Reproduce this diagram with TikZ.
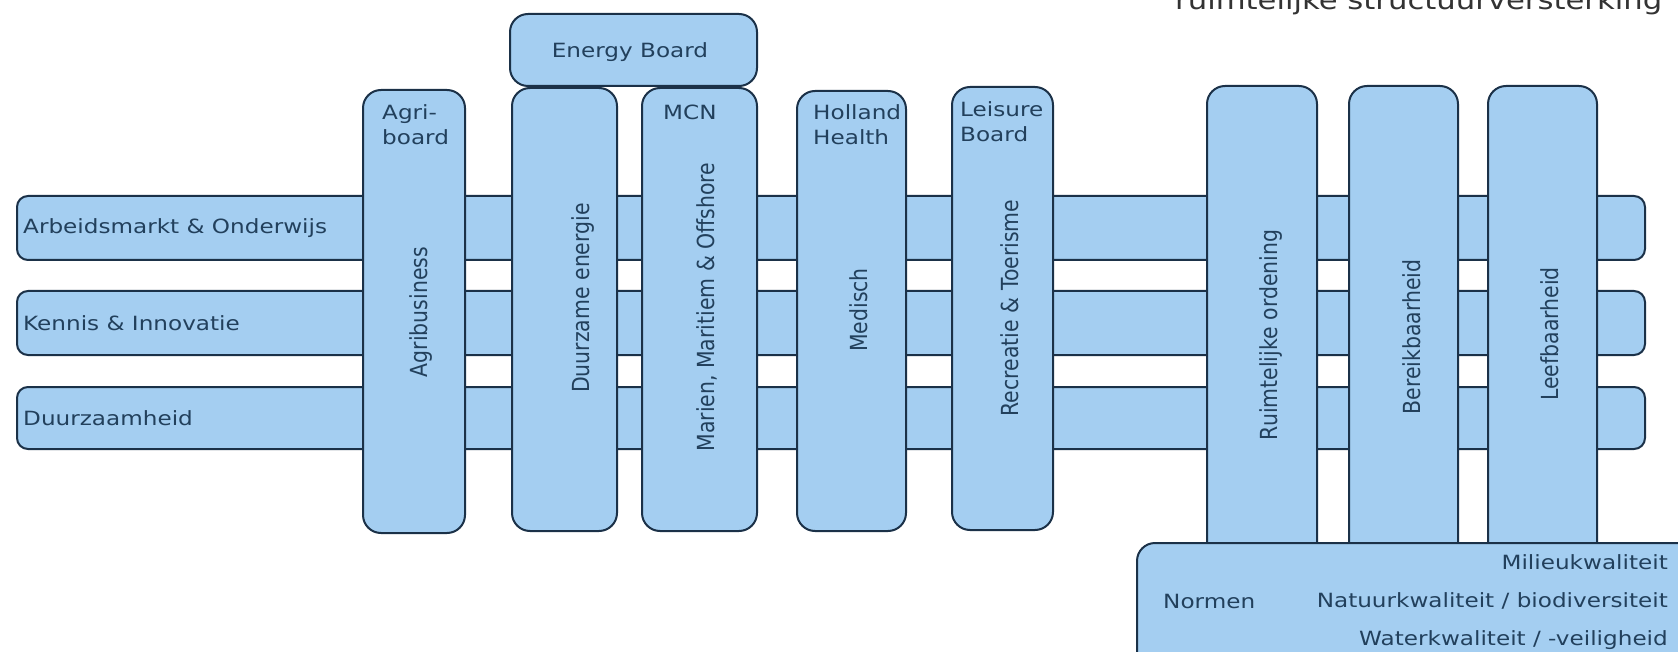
\documentclass[tikz,border=0pt]{standalone}
\usepackage{fontspec}
\setmainfont[FakeStretch=1.18]{DejaVu Sans}
\newfontfamily\rotfont[FakeStretch=0.87]{DejaVu Sans}
\usetikzlibrary{fit}
\definecolor{vulling}{HTML}{A4CEF1}
\definecolor{lijn}{HTML}{1B3148}
\definecolor{letter}{HTML}{22405C}

\begin{document}
\begin{tikzpicture}[x=1pt,y=-1pt,
  blok/.style={draw=lijn,fill=vulling,line width=2pt,rounded corners=18pt,inner sep=0pt},
  balk/.style={blok,rounded corners=11pt},
  tekst/.style={text=letter,inner sep=0pt,font=\fontsize{19.6}{25}\selectfont},
  staand/.style={text=letter,inner sep=0pt,rotate=90,font=\rotfont\fontsize{23.5}{26}\selectfont}]
\useasboundingbox (0,0) rectangle (1678,652);
\clip (0,0) rectangle (1678,652);
% horizontale balken
\node[balk,fit={(17,196) (1645,260)}] (arbeid) {};
\node[balk,fit={(17,291) (1645,355)}] (kennis) {};
\node[balk,fit={(17,387) (1645,449)}] (duurzaam) {};
% staande blokken
\node[blok,fit={(363,90) (465,533)}] (agri) {};
\node[blok,fit={(512,88) (617,531)}] (energie) {};
\node[blok,fit={(642,88) (757,531)}] (mcn) {};
\node[blok,fit={(797,91) (906,531)}] (holland) {};
\node[blok,fit={(952,87) (1053,530)}] (leisure) {};
\node[blok,fit={(1207,86) (1317,560)}] (ruimte) {};
\node[blok,fit={(1349,86) (1458,560)}] (bereik) {};
\node[blok,fit={(1488,86) (1597,560)}] (leef) {};
\node[blok,fit={(510,14) (757,86)}] (eboard) {};
\node[blok,fit={(1137,543) (1720,700)}] (normen) {};
% teksten
\node[tekst,anchor=west] (tarbeid) at (23,228) {Arbeidsmarkt \& Onderwijs};
\node[tekst,anchor=west] (tkennis) at (23,323) {Kennis \& Innovatie};
\node[tekst,anchor=west] (tduurzaam) at (23,418) {Duurzaamheid};
\node[tekst,anchor=north west,align=left] (tagri) at (382,104) {Agri-\\board};
\node[tekst] (teboard) at (630,52) {Energy Board};
\node[tekst,anchor=north west] (tmcn) at (663,105) {MCN};
\node[tekst,anchor=north west,align=left] (tholland) at (813,104) {Holland\\Health};
\node[tekst,anchor=north west,align=left] (tleisure) at (960,101) {Leisure\\Board};
\node[staand] (sagri) at (421,312) {Agribusiness};
\node[staand] (senergie) at (583,298) {Duurzame energie};
\node[staand] (smcn) at (707,307) {Marien, Maritiem \& Offshore};
\node[staand] (sholland) at (859,310) {Medisch};
\node[staand] (sleisure) at (1010,308) {Recreatie \& Toerisme};
\node[staand] (sruimte) at (1271,335) {Ruimtelijke ordening};
\node[staand] (sbereik) at (1412,337) {Bereikbaarheid};
\node[staand] (sleef) at (1550,334) {Leefbaarheid};
\node[tekst,anchor=west] (tnormen) at (1163,601) {Normen};
\node[tekst,anchor=east] (tmilieu) at (1668,562) {Milieukwaliteit};
\node[tekst,anchor=east] (tnatuur) at (1668,601) {Natuurkwaliteit / biodiversiteit};
\node[tekst,anchor=east] (twater) at (1668,640) {Waterkwaliteit / -veiligheid};
\node[tekst,anchor=base west,text=black!80,font=\fontsize{26}{28}\selectfont] (titel) at (1175,10) {ruimtelijke structuurversterking};
\end{tikzpicture}
\end{document}
